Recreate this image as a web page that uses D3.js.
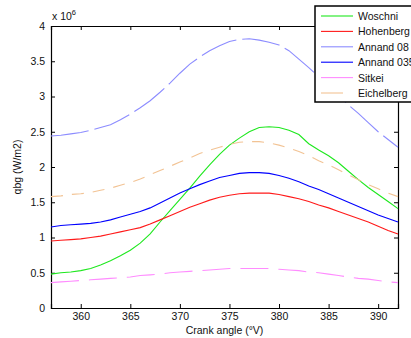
<!DOCTYPE html>
<meta charset="utf-8">
<style>
body{
  margin: 0;
  background: #fff;
}
svg{
  display: block;
  font-family: "Liberation Sans", Arial, sans-serif;
}
</style>

<svg width="411" height="338"></svg>
<script src="https://d3js.org/d3.v7.min.js"></script>
<script>

// crank angle (deg) and heat flux (x 1e6 W/m2)
var angle = [357, 358, 359, 360, 361, 362, 363, 364, 365, 366, 367, 368,
             369, 370, 371, 372, 373, 374, 375, 376, 377, 378, 379, 380,
             381, 382, 383, 384, 385, 386, 387, 388, 389, 390, 391, 392];

var woschni = [0.48, 0.50, 0.51, 0.53, 0.56, 0.61, 0.67, 0.74, 0.82, 0.92, 1.05, 1.22,
               1.38, 1.54, 1.70, 1.87, 2.03, 2.18, 2.31, 2.41, 2.50, 2.56, 2.57, 2.56,
               2.52, 2.46, 2.33, 2.24, 2.16, 2.06, 1.94, 1.82, 1.71, 1.61, 1.51, 1.41];

var hohenberg = [0.95, 0.96, 0.97, 0.98, 1.00, 1.02, 1.05, 1.08, 1.11, 1.14, 1.19, 1.25,
                 1.31, 1.37, 1.43, 1.48, 1.53, 1.57, 1.60, 1.62, 1.63, 1.63, 1.63, 1.61,
                 1.58, 1.55, 1.51, 1.46, 1.42, 1.37, 1.32, 1.27, 1.22, 1.16, 1.10, 1.05];

var annand08 = [2.44, 2.45, 2.47, 2.49, 2.52, 2.56, 2.60, 2.67, 2.75, 2.84, 2.94, 3.06,
                3.19, 3.33, 3.46, 3.56, 3.65, 3.72, 3.78, 3.81, 3.82, 3.80, 3.77, 3.73,
                3.65, 3.53, 3.41, 3.28, 3.15, 3.02, 2.88, 2.76, 2.63, 2.50, 2.39, 2.28];

var annand035 = [1.15, 1.17, 1.18, 1.19, 1.20, 1.22, 1.25, 1.29, 1.33, 1.37, 1.42, 1.49,
                 1.56, 1.63, 1.69, 1.75, 1.80, 1.85, 1.88, 1.91, 1.92, 1.92, 1.91, 1.88,
                 1.84, 1.79, 1.73, 1.68, 1.62, 1.56, 1.50, 1.44, 1.38, 1.32, 1.27, 1.22];

var sitkei = [0.36, 0.37, 0.38, 0.39, 0.40, 0.41, 0.42, 0.43, 0.44, 0.46, 0.47, 0.48,
              0.50, 0.51, 0.52, 0.53, 0.54, 0.55, 0.56, 0.56, 0.56, 0.56, 0.56, 0.55,
              0.54, 0.53, 0.51, 0.50, 0.48, 0.46, 0.44, 0.42, 0.41, 0.39, 0.37, 0.36];

var eichelberg = [1.58, 1.59, 1.61, 1.62, 1.64, 1.67, 1.70, 1.74, 1.78, 1.83, 1.89, 1.95,
                  2.01, 2.07, 2.13, 2.19, 2.24, 2.28, 2.32, 2.35, 2.36, 2.36, 2.34, 2.31,
                  2.27, 2.22, 2.16, 2.09, 2.03, 1.96, 1.89, 1.82, 1.75, 1.69, 1.63, 1.58];

var names = ["Woschni", "Hohenberg", "Annand 08", "Annand 035", "Sitkei", "Eichelberg"];
var xTicks = [360, 365, 370, 375, 380, 385, 390];
var yTicks = [0, 0.5, 1, 1.5, 2, 2.5, 3, 3.5, 4];

var series = [
  {name: names[0], values: woschni,    color: "#1ee81e", dash: null},
  {name: names[1], values: hohenberg,  color: "#ff1a1a", dash: null},
  {name: names[2], values: annand08,   color: "#8c8cff", dash: "38,6"},
  {name: names[3], values: annand035,  color: "#0000ff", dash: null},
  {name: names[4], values: sitkei,     color: "#ff8cff", dash: "28,10"},
  {name: names[5], values: eichelberg, color: "#f2c394", dash: "12,9"}
];

var fontSize = 10.5;

var svg = d3.select("svg"),
    margin = {top: 26, right: 13, bottom: 30, left: 51},
    width = 411 - margin.left - margin.right,
    height = 338 - margin.top - margin.bottom;

var x = d3.scaleLinear().domain([357, 392]).range([0, width]);
var y = d3.scaleLinear().domain([0, 4]).range([height, 0]);

var g = svg.append("g")
    .attr("transform", "translate(" + margin.left + "," + margin.top + ")");

// axes, MATLAB style: ticks inside, box all round
var fmt = function(d) { return d3.format("")(d); };

g.append("g")
    .attr("transform", "translate(0," + height + ")")
    .call(d3.axisBottom(x).tickValues(xTicks).tickSize(-4).tickPadding(5).tickFormat(fmt));
g.append("g")
    .call(d3.axisTop(x).tickValues(xTicks).tickSize(-4).tickFormat(""));
g.append("g")
    .call(d3.axisLeft(y).tickValues(yTicks).tickSize(-4).tickPadding(6).tickFormat(fmt));
g.append("g")
    .attr("transform", "translate(" + width + ",0)")
    .call(d3.axisRight(y).tickValues(yTicks).tickSize(-4).tickFormat(""));

g.selectAll(".domain").attr("stroke", "#000").attr("stroke-width", 1.2);
g.selectAll(".tick line").attr("stroke", "#000");
g.selectAll(".tick text").attr("font-size", fontSize).attr("fill", "#111")
    .style("font-family", "'Liberation Sans', Arial, sans-serif");

var line = d3.line()
    .x(function(d, i) { return x(angle[i]); })
    .y(function(d) { return y(d); });

g.append("g").selectAll("path")
  .data(series)
  .enter().append("path")
    .attr("d", function(d) { return line(d.values); })
    .attr("fill", "none")
    .attr("stroke", function(d) { return d.color; })
    .attr("stroke-width", 1.1)
    .attr("stroke-dasharray", function(d) { return d.dash; });

// exponent label
var ex = svg.append("text")
    .attr("x", 52).attr("y", 20)
    .attr("font-size", fontSize).attr("fill", "#111");
ex.append("tspan").text("x 10");
ex.append("tspan").attr("dy", -5).attr("font-size", 7.5).text("6");

svg.append("text")
    .attr("transform", "translate(21," + (margin.top + height / 2) + ") rotate(-90)")
    .attr("text-anchor", "middle")
    .attr("font-size", fontSize).attr("fill", "#111")
    .text("qbg (W/m2)");

svg.append("text")
    .attr("x", margin.left + width / 2).attr("y", 334)
    .attr("text-anchor", "middle")
    .attr("font-size", fontSize).attr("fill", "#111")
    .text("Crank angle (°V)");

// legend
var legend = svg.append("g").attr("transform", "translate(315,6)");
legend.append("rect")
    .attr("width", 100).attr("height", 96)
    .attr("fill", "#fff").attr("stroke", "#000").attr("stroke-width", 1.5);

var item = legend.selectAll(".item")
  .data(series)
  .enter().append("g")
    .attr("transform", function(d, i) { return "translate(0," + (10 + i * 15.4) + ")"; });

item.append("line")
    .attr("x1", 6).attr("x2", 38)
    .attr("stroke", function(d) { return d.color; })
    .attr("stroke-width", 1.1)
    .attr("stroke-dasharray", function(d, i) { return i === 5 ? "22,10" : null; });

item.append("text")
    .attr("x", 43).attr("y", 4)
    .attr("font-size", fontSize).attr("fill", "#111")
    .text(function(d) { return d.name; });

</script>
